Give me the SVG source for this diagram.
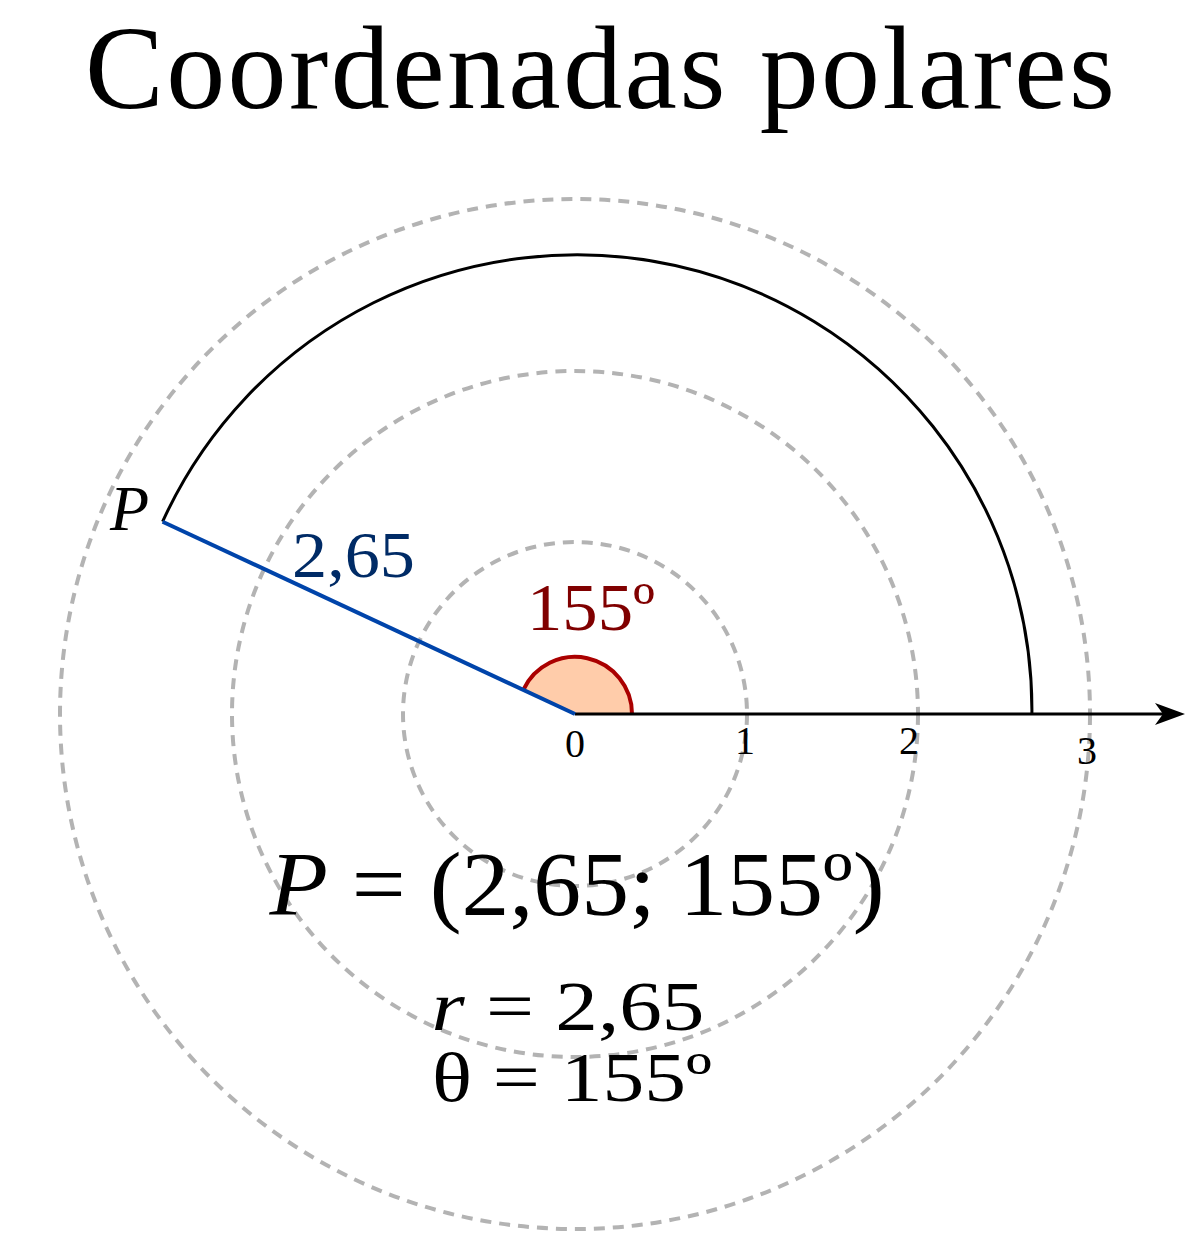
<svg xmlns="http://www.w3.org/2000/svg" width="1200" height="1256" viewBox="0 0 1200 1256">
<style>
text{font-family:"Liberation Serif","DejaVu Serif",serif;fill:#000}
.grid{fill:none;stroke:#b3b3b3;stroke-width:4;stroke-dasharray:11,8}
.it{font-style:italic}
</style>
<rect width="1200" height="1256" fill="#fff"/>
<g id="grid">
<circle class="grid" cx="575" cy="714" r="172"/>
<circle class="grid" cx="575" cy="714" r="343"/>
<circle class="grid" cx="575" cy="714" r="515"/>
</g>
<g id="connectors">
<path d="M1031.9,714 A455,455 0 0 0 162.6,521.7" fill="none" stroke="#000" stroke-width="3"/>
<path d="M575,714 L632,714 A57,57 0 0 0 523.3,689.9 Z" fill="#ffccaa"/>
<path d="M632,714 A57,57 0 0 0 523.3,689.9" fill="none" stroke="#aa0000" stroke-width="4"/>
<line x1="575" y1="714" x2="1168" y2="714" stroke="#000" stroke-width="3"/>
<polygon points="1185,714 1155,703 1163,714 1155,725" fill="#000"/>
<line x1="575" y1="714" x2="162.6" y2="521.7" stroke="#0044aa" stroke-width="4"/>
</g>
<g id="title"><text x="600" y="108" font-size="118" text-anchor="middle" textLength="1030">Coordenadas polares</text></g>
<g id="ticks">
<text x="575" y="757" font-size="40" text-anchor="middle">0</text>
<text x="745" y="754" font-size="40" text-anchor="middle">1</text>
<text x="909" y="754" font-size="40" text-anchor="middle">2</text>
<text x="1087" y="764" font-size="40" text-anchor="middle">3</text>
</g>
<g id="labelP"><text class="it" x="110" y="530" font-size="64">P</text></g>
<g id="labelR"><text x="292" y="577" font-size="66" textLength="123" lengthAdjust="spacingAndGlyphs" style="fill:#002b66">2,65</text></g>
<g id="labelAngle"><text x="527" y="630" font-size="68" textLength="128" lengthAdjust="spacingAndGlyphs" style="fill:#800000">155º</text></g>
<g id="formula">
<text x="577" y="915" font-size="92" text-anchor="middle" textLength="615" lengthAdjust="spacingAndGlyphs"><tspan class="it">P</tspan> = (2,65; 155º)</text>
<text x="568" y="1030" font-size="70" text-anchor="middle" textLength="273" lengthAdjust="spacingAndGlyphs"><tspan class="it">r</tspan> = 2,65</text>
<text x="572" y="1101" font-size="70" text-anchor="middle" textLength="280" lengthAdjust="spacingAndGlyphs">θ = 155º</text>
</g>
</svg>
